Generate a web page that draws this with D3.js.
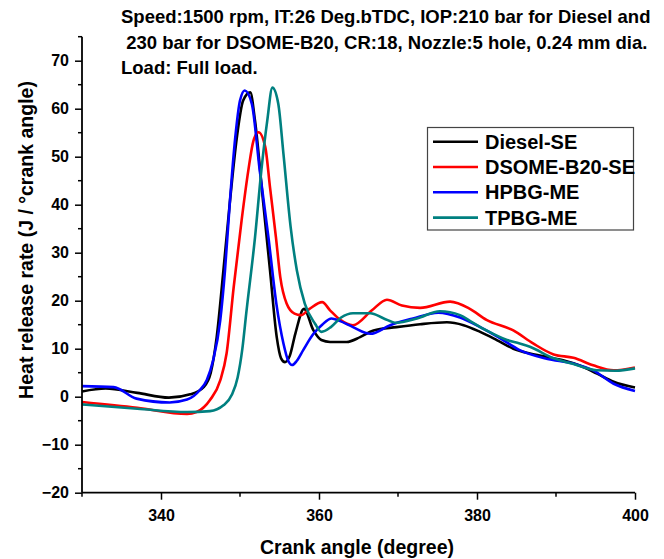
<!DOCTYPE html>
<html>
<head>
    <meta charset="utf-8">
    <title>Heat release rate</title>
    <script src="https://d3js.org/d3.v7.min.js"></script>
    <style>
        body { margin: 0; background: #fff; }
        text { font-family: Arial, "Liberation Sans", sans-serif; font-weight: bold; fill: #000; }
        .curve { fill: none; stroke-width: 2.6; }
    </style>
</head>
<body>
    <div id="chart"></div>

    <script>
        // Data
        var dieselAngle = [330, 333, 337, 341, 343.7, 345.4, 346.3, 347.05, 347.9, 348.7, 349.6, 350.4, 351.3, 351.9, 352.95, 353.8, 354.65, 355.2, 355.7, 356.3, 357.0, 358.1, 359.3, 360.3, 361.4, 363.5, 365.2, 366.9, 369.8, 372.8, 376.2, 378.3, 380.4, 382.5, 384.6, 386.7, 388.8, 390.9, 393, 395.2, 397.3, 400];
        var dieselHRR = [1.1, 1.7, 0.8, -0.2, 0.5, 2.0, 5.0, 12.4, 26.3, 40.2, 54, 61.7, 63.4, 57.5, 40.2, 26.3, 12.4, 8.0, 7.2, 8.5, 13.1, 18.3, 13.8, 11.8, 11.4, 11.4, 12.4, 13.8, 14.5, 15.1, 15.5, 14.9, 13.5, 11.8, 10.0, 9.0, 8.3, 7.6, 6.5, 4.8, 3.1, 1.9];

        var dsomeAngle = [330, 337, 343.3, 344.5, 346.2, 347.5, 348.3, 349.2, 350.2, 351.05, 351.7, 352.35, 353.2, 353.8, 354.55, 355.1, 355.9, 356.9, 357.7, 358.8, 360.4, 361.4, 362.7, 364.3, 366.7, 368.6, 370.5, 372.8, 376.6, 379.1, 381.2, 384.6, 387.1, 389.7, 392.2, 394.7, 397.3, 400];
        var dsomeHRR = [-1.1, -2.3, -3.6, -3.2, -0.7, 3.4, 9.0, 22.8, 36.7, 47.1, 53.3, 55.1, 52, 43.6, 33.2, 24.9, 19.4, 17.3, 17.0, 18.3, 19.7, 18.0, 16.0, 14.9, 18.0, 20.2, 19.0, 18.5, 19.8, 18.3, 16.0, 13.8, 11.1, 8.8, 8.1, 6.55, 5.5, 6.1];

        var hpbgAngle = [330, 334, 336.9, 341.1, 343.3, 344.9, 345.8, 346.6, 347.5, 348.1, 348.7, 349.4, 350, 350.6, 351.5, 352.5, 353.6, 354.6, 355.5, 356.1, 356.6, 357.2, 358, 359.3, 360.4, 361.6, 362.6, 364.3, 366.5, 369.0, 371.9, 375.1, 377.85, 380.4, 382.9, 385.4, 388.8, 392.2, 394.7, 397.3, 400];
        var hpbgHRR = [2.2, 2.0, -0.4, -1.2, -0.6, 1.35, 3.5, 7.6, 15.9, 26.3, 40.2, 54, 61.7, 63.8, 61, 47.1, 33.2, 19.4, 11.1, 7.5, 6.6, 7.5, 9.7, 13.1, 15.0, 16.3, 15.8, 14.5, 13.1, 14.9, 16.3, 17.5, 16.5, 14.5, 12.2, 9.7, 7.9, 6.9, 5.5, 2.7, 1.2];

        var tpbgAngle = [330, 337, 343.3, 346.2, 347.9, 349.0, 349.7, 350.3, 350.8, 351.9, 352.7, 353.45, 354.1, 354.85, 355.5, 356.4, 357.2, 358.2, 359.5, 360.3, 361.5, 362.8, 364.3, 366.5, 368.2, 369.8, 372.4, 375.3, 377.85, 379.3, 381.2, 383.8, 385.4, 386.7, 389.7, 392, 395.15, 397.5, 400];
        var tpbgHRR = [-1.6, -2.5, -3.2, -3.0, -1.8, 0.5, 4.0, 10.0, 17.5, 33.2, 47.1, 57.5, 64.4, 61, 50.6, 35.5, 26.3, 19.4, 15.2, 13.5, 14.5, 16.5, 17.4, 17.4, 16.3, 15.4, 16.3, 17.8, 17.0, 15.6, 13.8, 11.8, 11.1, 10.4, 8.0, 6.9, 5.5, 5.4, 5.9];

        var seriesNames = ["Diesel-SE", "DSOME-B20-SE", "HPBG-ME", "TPBG-ME"];
        var seriesColors = ["#000000", "#ff0000", "#0000ff", "#008080"];
        var xTicks = [340, 360, 380, 400];
        var xMinorTicks = [330, 350, 370, 390];
        var yTicks = [-20, -10, 0, 10, 20, 30, 40, 50, 60, 70];
        var yMinorTicks = [-15, -5, 5, 15, 25, 35, 45, 55, 65, 75];
        var titleLines = ["Speed:1500 rpm, IT:26 Deg.bTDC, IOP:210 bar for Diesel and",
                          " 230 bar for DSOME-B20, CR:18, Nozzle:5 hole, 0.24 mm dia.",
                          "Load: Full load."];

        var series = [
            { x: dieselAngle, y: dieselHRR },
            { x: dsomeAngle, y: dsomeHRR },
            { x: hpbgAngle, y: hpbgHRR },
            { x: tpbgAngle, y: tpbgHRR }
        ];

        var W = 664, H = 559;
        var svg = d3.select("#chart").append("svg")
            .attr("width", W)
            .attr("height", H);

        // Scales
        var x = d3.scaleLinear().domain([330, 400]).range([82, 635]);
        var y = d3.scaleLinear().domain([-20, 75]).range([492.7, 36.7]);

        // Curves
        var line = d3.line()
            .x(function (d) { return x(d[0]); })
            .y(function (d) { return y(d[1]); })
            .curve(d3.curveMonotoneX);

        var plot = svg.append("g");
        series.forEach(function (s, i) {
            var pts = s.x.map(function (a, j) { return [a, s.y[j]]; });
            plot.append("path")
                .attr("class", "curve")
                .attr("d", line(pts))
                .attr("stroke", seriesColors[i]);
        });

        // X axis
        var xAxis = svg.append("g").attr("transform", "translate(0," + y(-20) + ")");
        xAxis.call(d3.axisBottom(x).tickValues(xTicks).tickSize(7).tickPadding(10))
            .call(function (g) { g.select(".domain").remove(); });
        xAxis.selectAll(".tick line").attr("stroke", "#000").attr("stroke-width", 1.5);
        xAxis.selectAll("text").style("font-size", "16px").style("font-family", "Arial, 'Liberation Sans', sans-serif").style("font-weight", "bold");
        xAxis.selectAll(".minor").data(xMinorTicks).enter().append("line")
            .attr("x1", function (d) { return x(d); }).attr("x2", function (d) { return x(d); })
            .attr("y1", 0).attr("y2", 4)
            .attr("stroke", "#000").attr("stroke-width", 1.5);
        xAxis.append("line")
            .attr("x1", x(330)).attr("x2", x(400))
            .attr("stroke", "#000").attr("stroke-width", 1.8);

        // Y axis
        var yAxis = svg.append("g").attr("transform", "translate(" + x(330) + ",0)");
        yAxis.call(d3.axisLeft(y).tickValues(yTicks).tickSize(7).tickPadding(6))
            .call(function (g) { g.select(".domain").remove(); });
        yAxis.selectAll(".tick line").attr("stroke", "#000").attr("stroke-width", 1.5);
        yAxis.selectAll("text").style("font-size", "16px").style("font-family", "Arial, 'Liberation Sans', sans-serif").style("font-weight", "bold");
        yAxis.selectAll(".minor").data(yMinorTicks).enter().append("line")
            .attr("y1", function (d) { return y(d); }).attr("y2", function (d) { return y(d); })
            .attr("x1", 0).attr("x2", -4)
            .attr("stroke", "#000").attr("stroke-width", 1.5);
        yAxis.append("line")
            .attr("y1", y(-20)).attr("y2", y(75))
            .attr("stroke", "#000").attr("stroke-width", 1.8);

        // Axis titles
        svg.append("text")
            .attr("x", 357).attr("y", 554)
            .attr("text-anchor", "middle")
            .style("font-size", "19.5px")
            .text("Crank angle (degree)");

        svg.append("text")
            .attr("transform", "translate(33,240) rotate(-90)")
            .attr("text-anchor", "middle")
            .style("font-size", "19.5px")
            .text("Heat release rate (J / \u00B0crank angle)");

        // Title
        svg.selectAll(".title").data(titleLines).enter().append("text")
            .attr("class", "title")
            .attr("x", 121)
            .attr("y", function (d, i) { return [23, 49, 74][i]; })
            .attr("xml:space", "preserve")
            .style("white-space", "pre")
            .style("font-size", "18.5px")
            .text(function (d) { return d; });

        // Legend
        var legend = svg.append("g");
        legend.append("rect")
            .attr("x", 427.5).attr("y", 127.5)
            .attr("width", 206).attr("height", 102.5)
            .attr("fill", "#fff").attr("stroke", "#444").attr("stroke-width", 1.2);
        seriesNames.forEach(function (name, i) {
            var ly = 141.7 + i * 25.3;
            legend.append("line")
                .attr("x1", 433).attr("x2", 478)
                .attr("y1", ly).attr("y2", ly)
                .attr("stroke", seriesColors[i]).attr("stroke-width", 2.6);
            legend.append("text")
                .attr("x", 485).attr("y", ly + 7)
                .style("font-size", "20px")
                .text(name);
        });
    </script>
</body>
</html>
